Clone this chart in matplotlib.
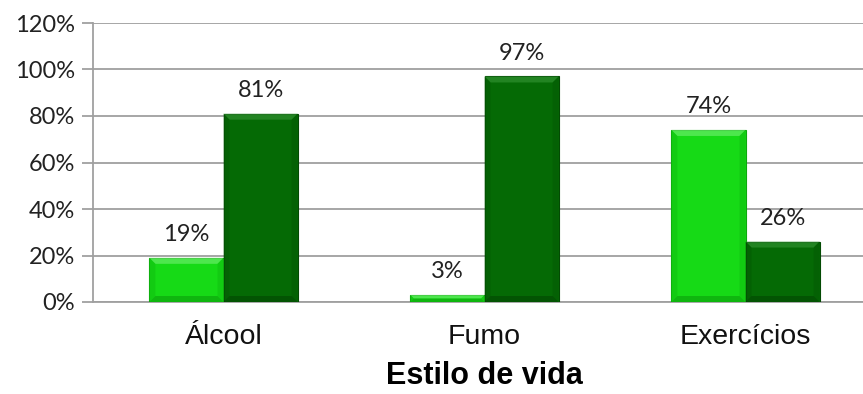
import matplotlib
matplotlib.use("Agg")
import matplotlib.pyplot as plt
from matplotlib.patches import Polygon
from matplotlib.transforms import IdentityTransform
import numpy as np

categories = ["Álcool", "Fumo", "Exercícios"]
sim_values = [19, 3, 74]
nao_values = [81, 97, 26]
y_ticks = [0, 20, 40, 60, 80, 100, 120]
y_tick_labels = ["0%", "20%", "40%", "60%", "80%", "100%", "120%"]
x_title = "Estilo de vida"

W, H = 863, 394
fig = plt.figure(figsize=(W / 100, H / 100), dpi=100)
ax = fig.add_axes([93 / W, 1 - 302 / H, 783 / W, 279 / H])

x = np.arange(len(categories))
bw = 0.284
light = "#16DA16"
dark = "#056A05"
bars_a = ax.bar(x - bw / 2, sim_values, bw, color=light, edgecolor="#0EA80E", linewidth=0.8, zorder=3)
bars_b = ax.bar(x + bw / 2, nao_values, bw, color=dark, edgecolor="#034A03", linewidth=0.8, zorder=3)

ax.set_xlim(-0.5, len(categories) - 0.5)
ax.set_ylim(0, 120)
ax.set_yticks(y_ticks)
ax.set_yticklabels(y_tick_labels, fontfamily="Lato", fontsize=17, color="#222222")
ax.set_xticks(x)
ax.set_xticklabels(categories, fontfamily="Liberation Sans", fontsize=20.5, color="#111111")
ax.tick_params(axis="x", length=0, pad=16)
ax.tick_params(axis="y", length=8, width=1.3, color="#A0A0A0", pad=5)
ax.set_xlabel(x_title, fontfamily="Liberation Sans", fontweight="bold", fontsize=22, labelpad=8)

ax.yaxis.grid(True, color="#A6A6A6", linewidth=1.4, zorder=0)
ax.set_axisbelow(True)
for s in ["top", "right"]:
    ax.spines[s].set_visible(False)
for s in ["left", "bottom"]:
    ax.spines[s].set_color("#A0A0A0")
    ax.spines[s].set_linewidth(1.3)

# bevel highlights on the bar edges
def bevel(bar, top_col, side_col, bottom_col):
    bb = bar.get_window_extent()
    x0, y0, x1, y1 = bb.x0, bb.y0, bb.x1, bb.y1
    d = min(6, (y1 - y0) / 2)
    polys = [
        ([(x0, y1), (x1, y1), (x1 - d, y1 - d), (x0 + d, y1 - d)], top_col),
        ([(x0, y0), (x0, y1), (x0 + d, y1 - d), (x0 + d, y0 + d)], side_col),
        ([(x1, y0), (x1, y1), (x1 - d, y1 - d), (x1 - d, y0 + d)], side_col),
        ([(x0, y0), (x1, y0), (x1 - d, y0 + d), (x0 + d, y0 + d)], bottom_col),
    ]
    for pts, c in polys:
        fig.patches.append(Polygon(pts, closed=True, facecolor=c, edgecolor="none",
                                   alpha=0.55, transform=IdentityTransform(), zorder=4))

fig.canvas.draw()
for b in bars_a:
    bevel(b, "#7CF27C", "#10C010", "#0A9A0A")
for b in bars_b:
    bevel(b, "#3A9A3A", "#045A04", "#024202")

for bars, vals in ((bars_a, sim_values), (bars_b, nao_values)):
    for b, v in zip(bars, vals):
        ax.annotate(f"{v}%", (b.get_x() + b.get_width() / 2, v), xytext=(0, 12),
                    textcoords="offset points", ha="center", va="baseline",
                    fontfamily="Lato", fontsize=17, color="#222222")

fig.savefig("out.png", dpi=100)
